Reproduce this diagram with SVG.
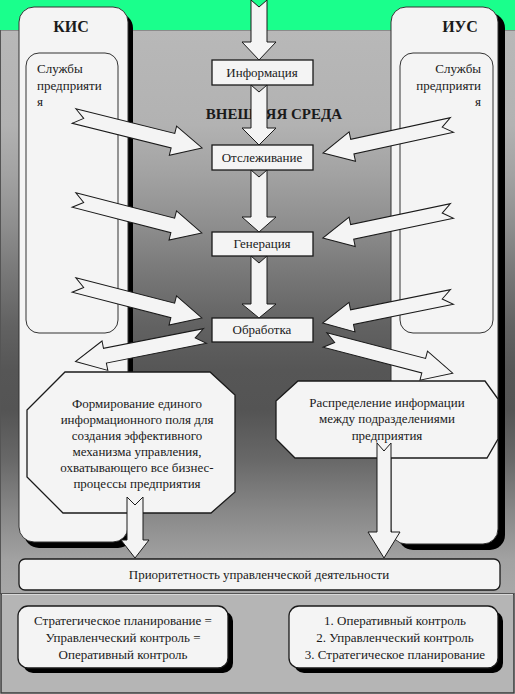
<svg xmlns="http://www.w3.org/2000/svg" width="515" height="694" viewBox="0 0 515 694" font-family="'Liberation Serif', 'DejaVu Serif', serif">
<defs>
<linearGradient id="bg" gradientUnits="userSpaceOnUse" x1="0" y1="30" x2="0" y2="594">
<stop offset="0" stop-color="#b8b8b8"/>
<stop offset="0.168" stop-color="#b2b2b2"/>
<stop offset="0.257" stop-color="#a2a2a2"/>
<stop offset="0.346" stop-color="#8e8e8e"/>
<stop offset="0.434" stop-color="#777777"/>
<stop offset="0.523" stop-color="#626262"/>
<stop offset="0.603" stop-color="#565656"/>
<stop offset="0.674" stop-color="#545454"/>
<stop offset="0.762" stop-color="#686868"/>
<stop offset="0.851" stop-color="#878787"/>
<stop offset="0.94" stop-color="#a2a2a2"/>
<stop offset="1" stop-color="#a8a8a8"/>
</linearGradient>
<path id="sa" d="M0,-7.5 L102,-7.5 L102,-15 L132,0 L102,15 L102,7.5 L0,7.5 L10,0 Z"/>
</defs>
<style>
.col{fill:#f4f4f4;stroke:#333333;stroke-width:1}
.sh{fill:#000000}
.box{fill:#f4f4f4;stroke:#1a1a1a;stroke-width:1.3}
.arr{fill:#f4f4f4;stroke:#1a1a1a;stroke-width:1}
text{font-family:'Liberation Serif','DejaVu Serif',serif;fill:#1a1a1a}
.t{font-size:13px}
.h{font-size:16px;font-weight:bold}
.e{font-size:15px;font-weight:bold}
.c{text-anchor:middle}
.r{text-anchor:end}
</style>

<g id="background">
<rect x="0" y="30" width="515" height="564" fill="url(#bg)"/>
<rect x="0" y="0" width="515" height="30" fill="#1aff8c"/>
<line x1="0" y1="30.5" x2="515" y2="30.5" stroke="#8a8a8a" stroke-width="1"/>
<line x1="0.5" y1="30" x2="0.5" y2="594" stroke="#555555" stroke-width="1"/>
<rect x="1" y="594" width="513" height="99" fill="#b5b5b5" stroke="#3a3a3a" stroke-width="1.5"/>
<line x1="2" y1="594.5" x2="513" y2="594.5" stroke="#d8d8d8" stroke-width="1"/>
</g>

<g id="kis">
<rect class="sh" x="24" y="13" width="109" height="535" rx="15"/>
<rect class="col" x="19" y="7" width="109" height="535" rx="15"/>
<text class="h c" x="71" y="32">КИС</text>
<g id="kis-services">
<rect class="col" x="26" y="53" width="92" height="280" rx="13" stroke="#222222"/>
<text class="t" x="37" y="73">Службы</text>
<text class="t" x="37" y="90">предприяти</text>
<text class="t" x="37" y="106">я</text>
</g>
</g>

<g id="ius">
<rect class="sh" x="398" y="13" width="107" height="537" rx="15"/>
<rect class="col" x="391" y="7" width="107" height="537" rx="15"/>
<text class="h c" x="460" y="32">ИУС</text>
<g id="ius-services">
<rect class="col" x="400" y="53" width="93" height="280" rx="13" stroke="#222222"/>
<text class="t r" x="481" y="73">Службы</text>
<text class="t r" x="481" y="90">предприяти</text>
<text class="t r" x="481" y="106">я</text>
</g>
</g>

<g id="environment">
<text class="e c" x="274" y="119">ВНЕШНЯЯ СРЕДА</text>
</g>

<g id="info">
<rect class="box" x="212" y="60" width="101" height="25"/>
<text class="t c" x="262" y="77">Информация</text>
</g>
<g id="tracking">
<rect class="box" x="212" y="145" width="101" height="25"/>
<text class="t c" x="262" y="162">Отслеживание</text>
</g>
<g id="generation">
<rect class="box" x="212" y="232" width="101" height="24"/>
<text class="t c" x="262" y="248">Генерация</text>
</g>
<g id="processing">
<rect class="box" x="212" y="318" width="101" height="24"/>
<text class="t c" x="262" y="334">Обработка</text>
</g>

<g id="forming">
<polygon class="box" points="65,372 210,372 235,395 235,492 211,513 63,513 27,477 27,410"/>
<text class="t c" x="137" y="408">Формирование единого</text>
<text class="t c" x="137" y="424">информационного поля для</text>
<text class="t c" x="137" y="440">создания эффективного</text>
<text class="t c" x="137" y="456">механизма управления,</text>
<text class="t c" x="137" y="472">охватывающего все бизнес-</text>
<text class="t c" x="137" y="488">процессы предприятия</text>
</g>

<g id="distribution">
<polygon class="box" points="298,381 485,381 498,399 498,439 487,458 295,458 276,439 276,401"/>
<text class="t c" x="387" y="407">Распределение информации</text>
<text class="t c" x="387" y="423">между подразделениями</text>
<text class="t c" x="387" y="440">предприятия</text>
</g>

<g id="priority">
<rect class="box" x="19" y="559" width="481" height="31" rx="6"/>
<text class="t c" x="259" y="579">Приоритетность управленческой деятельности</text>
</g>

<g id="kis-order">
<rect class="sh" x="23" y="611" width="210" height="62" rx="10"/>
<rect class="box" x="18" y="606" width="210" height="62" rx="10"/>
<text class="t c" x="123" y="625">Стратегическое планирование =</text>
<text class="t c" x="123" y="642">Управленческий контроль =</text>
<text class="t c" x="123" y="659">Оперативный контроль</text>
</g>

<g id="ius-order">
<rect class="sh" x="294" y="611" width="209" height="62" rx="10"/>
<rect class="box" x="289" y="606" width="209" height="62" rx="10"/>
<text class="t c" x="395" y="625">1. Оперативный контроль</text>
<text class="t c" x="395" y="642">2. Управленческий контроль</text>
<text class="t c" x="395" y="659">3. Стратегическое планирование</text>
</g>

<g id="connectors">
<polygon class="arr" points="251,0 259,7 267,0 267,42 276,42 259,60 242,42 251,42"/>
<polygon class="arr" points="251,85 259,92 267,85 267,128 276,128 259,145 242,128 251,128"/>
<polygon class="arr" points="251,170 259,177 267,170 267,217 276,217 259,232 242,217 251,217"/>
<polygon class="arr" points="251,256 259,263 267,256 267,304 276,304 259,318 242,304 251,304"/>
<use href="#sa" class="arr" transform="translate(74,116) rotate(14.0)"/>
<use href="#sa" class="arr" transform="translate(74,200) rotate(14.46)"/>
<use href="#sa" class="arr" transform="translate(74,285) rotate(14.46)"/>
<use href="#sa" class="arr" transform="translate(452,125) rotate(167.75)"/>
<use href="#sa" class="arr" transform="translate(452,211) rotate(168.18)"/>
<use href="#sa" class="arr" transform="translate(452,297) rotate(168.6)"/>
<use href="#sa" class="arr" transform="translate(205,336) rotate(168.86)"/>
<use href="#sa" class="arr" transform="translate(325,340) rotate(14.57)"/>
<polygon class="arr" points="127,497 135,505 143,497 143,540 149,540 135,558 121,540 127,540"/>
<polygon class="arr" points="377,443 384,451 391,443 391,532 400,532 384,558 368,532 377,532"/>
</g>
</svg>
